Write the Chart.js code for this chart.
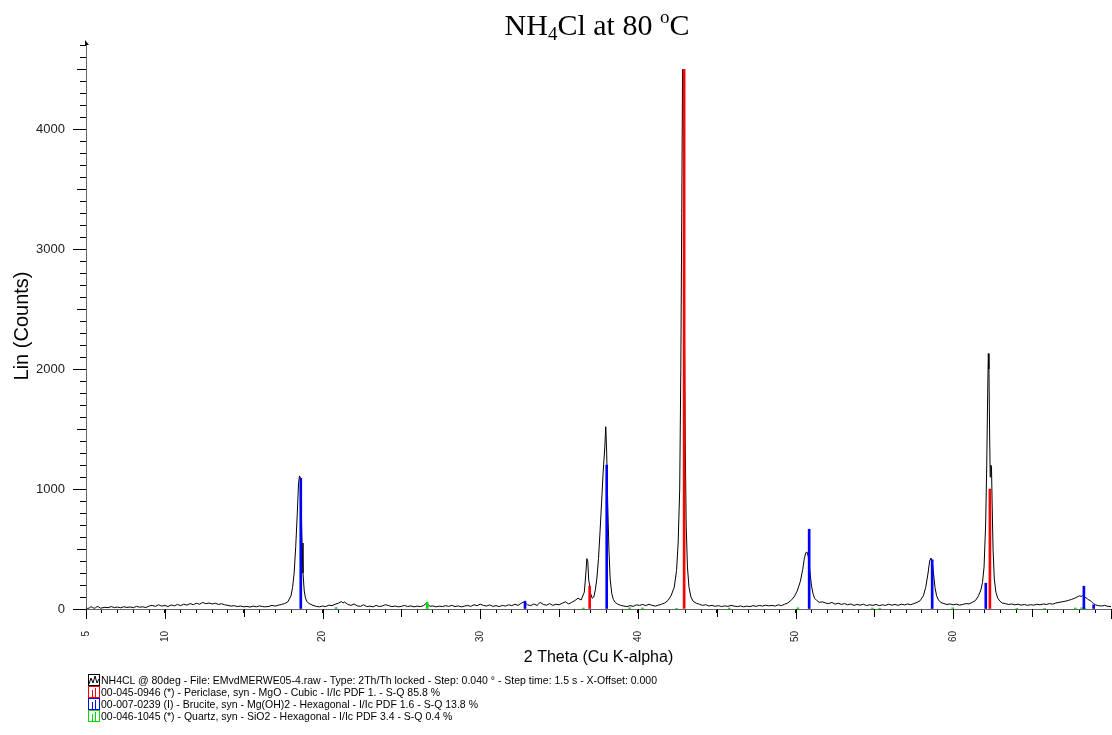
<!DOCTYPE html>
<html>
<head>
<meta charset="utf-8">
<script src="https://cdn.jsdelivr.net/npm/chart.js@4.4.1/dist/chart.umd.min.js"></script>
<style>
  html, body { margin: 0; padding: 0; background: #fff; }
  #wrap { position: relative; width: 1112px; height: 735px; overflow: hidden; }
  #c { position: absolute; left: 0; top: 0; }
  #title { position: absolute; left: 0; width: 1194px; top: 7px; text-align: center;
           font-family: "Liberation Serif", "Times New Roman", serif; font-size: 30px; color: #000; line-height: 36px; }
  #title sub { font-size: 19px; vertical-align: -5px; line-height: 0; }
  #title sup { font-size: 19px; vertical-align: 12px; line-height: 0; }
  #legend { position: absolute; left: 88px; top: 674px; font-family: "Liberation Sans", Arial, sans-serif;
            font-size: 10.5px; color: #000; }
  #legend .row { height: 12px; line-height: 12px; white-space: nowrap; display: flex; align-items: center; }
  #legend svg { margin-right: 1px; flex: none; }
</style>
</head>
<body>
<div id="wrap">
  <canvas id="c" width="1112" height="735"></canvas>
  <div id="title">NH<sub>4</sub>Cl at 80 <sup>o</sup>C</div>
  <div id="legend">
    <div class="row"><svg width="12" height="12"><rect x="0.5" y="0.5" width="11" height="11" fill="none" stroke="#000"/><polyline points="1,10 3,4 5,9 7,2 9,9 11,5" fill="none" stroke="#000"/></svg><span>NH4CL @ 80deg - File: EMvdMERWE05-4.raw - Type: 2Th/Th locked - Step: 0.040 ° - Step time: 1.5 s - X-Offset: 0.000</span></div>
    <div class="row"><svg width="12" height="12"><rect x="0.5" y="0.5" width="11" height="11" fill="none" stroke="#ff0000"/><line x1="4.5" y1="4" x2="4.5" y2="11" stroke="#ff0000"/><line x1="7.5" y1="2" x2="7.5" y2="11" stroke="#ff0000"/></svg><span>00-045-0946 (*) - Periclase, syn - MgO - Cubic - I/Ic PDF 1. - S-Q 85.8 %</span></div>
    <div class="row"><svg width="12" height="12"><rect x="0.5" y="0.5" width="11" height="11" fill="none" stroke="#0000ff"/><line x1="4.5" y1="4" x2="4.5" y2="11" stroke="#0000ff"/><line x1="7.5" y1="2" x2="7.5" y2="11" stroke="#0000ff"/></svg><span>00-007-0239 (I) - Brucite, syn - Mg(OH)2 - Hexagonal - I/Ic PDF 1.6 - S-Q 13.8 %</span></div>
    <div class="row"><svg width="12" height="12"><rect x="0.5" y="0.5" width="11" height="11" fill="none" stroke="#00dd00"/><line x1="4.5" y1="4" x2="4.5" y2="11" stroke="#00dd00"/><line x1="7.5" y1="2" x2="7.5" y2="11" stroke="#00dd00"/></svg><span>00-046-1045 (*) - Quartz, syn - SiO2 - Hexagonal - I/Ic PDF 3.4 - S-Q 0.4 %</span></div>
  </div>
</div>
<script>
// ---- measured pattern (2-theta, counts) ----
const twoTheta = [
 5.0,5.1,5.2,5.3,5.4,5.5,5.6,5.7,5.8,5.9,6.0,6.2,6.4,6.6,6.8,7.0,7.2,7.4,7.6,7.8,8.0,8.2,8.4,8.6,8.8,
 9.0,9.2,9.4,9.6,9.8,10.0,10.2,10.4,10.6,10.8,11.0,11.2,11.4,11.6,11.8,12.0,12.2,12.4,12.6,12.8,
 13.0,13.2,13.4,13.6,13.8,14.0,14.2,14.4,14.6,14.8,15.0,15.2,15.4,15.6,15.8,16.0,16.2,16.4,16.6,16.8,
 17.0,17.2,17.4,17.6,17.8,18.0,18.1,18.2,18.3,18.4,18.48,18.54,18.6,18.64,18.7,18.76,18.84,18.92,19.0,19.1,
 19.2,19.4,19.6,19.8,20.0,20.2,20.4,20.6,20.8,21.0,21.2,21.3,21.4,21.6,21.8,22.0,22.2,22.4,22.6,22.8,
 23.0,23.2,23.4,23.6,23.8,24.0,24.2,24.4,24.6,24.8,25.0,25.2,25.4,25.6,25.8,26.0,26.2,26.4,26.6,26.7,
 26.8,27.0,27.2,27.4,27.6,27.8,28.0,28.2,28.4,28.6,28.8,29.0,29.2,29.4,29.6,29.8,30.0,30.2,30.4,30.6,
 30.8,31.0,31.2,31.4,31.6,31.8,32.0,32.2,32.4,32.6,32.8,33.0,33.2,33.4,33.6,33.8,34.0,34.2,34.4,34.6,
 34.8,35.0,35.2,35.4,35.6,35.8,36.0,36.2,36.4,36.6,36.7,36.76,36.82,36.88,36.94,37.0,37.1,37.2,37.3,37.4,
 37.5,37.6,37.7,37.8,37.9,37.96,38.02,38.08,38.16,38.24,38.34,38.44,38.56,38.7,38.9,39.1,39.3,39.5,39.7,39.9,
 40.1,40.3,40.5,40.7,40.9,41.1,41.3,41.5,41.7,41.9,42.1,42.3,42.45,42.55,42.65,42.72,42.78,42.83,42.87,42.9,
 42.95,43.0,43.06,43.14,43.24,43.36,43.5,43.7,43.9,44.1,44.3,44.5,44.7,44.9,45.1,45.3,45.5,45.7,45.9,46.1,
 46.3,46.5,46.7,46.9,47.1,47.3,47.5,47.7,47.9,48.1,48.3,48.5,48.7,48.9,49.1,49.3,49.5,49.7,49.9,50.1,
 50.3,50.45,50.55,50.65,50.72,50.8,50.9,51.0,51.1,51.2,51.35,51.5,51.7,51.9,52.1,52.3,52.5,52.7,52.9,53.1,
 53.3,53.5,53.7,53.9,54.1,54.3,54.5,54.7,54.9,55.1,55.3,55.5,55.7,55.9,56.1,56.3,56.5,56.7,56.9,57.1,
 57.3,57.5,57.7,57.9,58.1,58.25,58.4,58.5,58.58,58.66,58.74,58.84,58.94,59.06,59.2,59.4,59.6,59.8,60.0,60.2,
 60.4,60.6,60.8,61.0,61.2,61.4,61.6,61.75,61.85,61.95,62.05,62.12,62.18,62.22,62.26,62.3,62.34,62.38,62.42,62.46,
 62.52,62.6,62.7,62.82,62.96,63.1,63.3,63.5,63.7,63.9,64.1,64.3,64.5,64.7,64.9,65.1,65.3,65.5,65.7,65.9,
 66.1,66.3,66.5,66.7,66.9,67.1,67.3,67.5,67.7,67.85,68.0,68.1,68.2,68.3,68.4,68.5,68.6,68.7,68.8,68.9,
 69.0,69.2,69.4,69.6,69.8,70.0
];
const counts = [
 12,4,8,18,15,6,10,20,18,7,9,14,11,20,12,16,10,19,13,17,11,22,15,18,12,
 25,30,22,35,24,30,20,34,26,38,28,40,32,45,36,48,40,55,44,50,
 42,48,38,44,35,30,24,28,20,25,18,22,16,24,18,26,20,18,22,30,
 24,32,38,45,60,110,180,300,520,800,1050,1110,1090,900,550,300,150,90,65,50,
 42,30,22,18,25,20,32,28,40,48,62,50,58,38,30,42,26,22,35,20,
 24,18,30,20,26,36,28,20,25,18,22,30,20,26,18,24,20,28,50,38,
 22,26,18,24,20,28,22,30,20,26,18,24,30,22,35,28,40,30,25,34,
 22,28,20,30,24,35,28,40,30,48,60,35,28,42,30,55,38,32,45,30,
 40,35,48,60,42,55,70,90,75,140,300,420,400,240,200,130,90,100,160,260,
 420,650,900,1150,1350,1520,1300,900,500,250,130,80,55,42,30,25,20,28,22,35,
 30,38,28,40,30,24,32,40,50,70,110,180,320,550,1000,2000,3300,4500,4300,3400,
 2400,1400,700,350,180,100,65,48,40,30,36,25,30,22,28,20,26,22,30,24,
 20,26,18,24,20,28,22,30,24,32,26,30,24,35,28,40,50,70,100,150,
 230,330,420,470,475,440,320,200,130,90,70,55,60,50,45,55,40,48,38,45,
 35,42,30,38,32,40,28,36,30,38,28,35,30,40,32,38,30,40,34,42,
 36,45,55,70,110,180,300,400,425,400,300,180,110,75,55,45,38,42,35,40,
 32,38,45,42,55,70,110,160,220,350,700,1200,1800,2130,2000,1500,1100,1200,1190,900,
 500,250,140,90,65,50,45,38,42,35,40,32,38,30,36,32,40,35,42,38,
 45,40,50,55,60,65,72,80,90,100,110,105,110,100,95,85,75,70,55,45,
 35,28,25,30,22,20
];
// ---- reference stick patterns ----
const periclaseTheta = [36.94, 42.93, 62.32];
const periclaseI     = [190, 4500, 1000];
const bruciteTheta   = [18.62, 32.84, 38.02, 50.86, 58.66, 62.06, 68.28, 68.9];
const bruciteI       = [1090, 65, 1200, 665, 410, 215, 190, 35];
const quartzTheta    = [20.86, 26.64, 36.54, 39.47, 40.29, 42.45, 45.79, 50.14, 54.87, 55.33, 59.96, 64.03, 65.79, 67.74, 68.14, 68.32];
const quartzI        = [12, 55, 8, 10, 8, 6, 8, 10, 8, 6, 10, 6, 5, 8, 10, 7];
// ---- axis ticks ----
const xLabelValues = [5, 10, 20, 30, 40, 50, 60];
const yLabelValues = [0, 1000, 2000, 3000, 4000];

const pts = (xs, ys) => xs.map((x, i) => ({x: x, y: ys[i]}));
const FONT = "'Liberation Sans', Arial, sans-serif";

const extraTicks = {
  id: 'extraTicks',
  afterDraw(chart) {
    const {ctx} = chart;
    const x = chart.scales.x, y = chart.scales.y;
    ctx.save();
    ctx.strokeStyle = '#000';
    ctx.lineWidth = 1;
    x.ticks.forEach(t => {
      const v = t.value;
      let len = 0;
      if (v % 10 === 0 || v === 5) len = 10; else if (v % 5 === 0) len = 8;
      if (len) {
        const px = Math.round(x.getPixelForValue(v)) + 0.5;
        ctx.beginPath(); ctx.moveTo(px, x.top); ctx.lineTo(px, x.top + len); ctx.stroke();
      }
    });
    y.ticks.forEach(t => {
      const v = t.value;
      let len = 0;
      if (v % 1000 === 0) len = 13; else if (v % 500 === 0) len = 9;
      if (len) {
        const py = Math.round(y.getPixelForValue(v)) + 0.5;
        ctx.beginPath(); ctx.moveTo(y.right - len, py); ctx.lineTo(y.right, py); ctx.stroke();
      }
    });
    const ax = y.right, ay = y.top;
    ctx.fillStyle = '#000';
    ctx.beginPath(); ctx.moveTo(ax - 1, ay - 3); ctx.lineTo(ax + 3, ay + 2); ctx.lineTo(ax - 1, ay + 2); ctx.closePath(); ctx.fill();
    ctx.restore();
  }
};

new Chart(document.getElementById('c'), {
  type: 'line',
  data: {
    datasets: [
      { type: 'bar', label: 'Periclase', data: pts(periclaseTheta, periclaseI), backgroundColor: '#ff0000',
        barThickness: 2, order: 0, grouped: false },
      { type: 'bar', label: 'Brucite', data: pts(bruciteTheta, bruciteI), backgroundColor: '#0000ff',
        barThickness: 2, order: 0, grouped: false },
      { type: 'bar', label: 'Quartz', data: pts(quartzTheta, quartzI), backgroundColor: '#00dd00',
        barThickness: 2, order: 0, grouped: false },
      { type: 'line', label: 'NH4CL @ 80deg', data: pts(twoTheta, counts), borderColor: '#000',
        borderWidth: 1, pointRadius: 0, tension: 0, fill: false, order: 2 }
    ]
  },
  options: {
    responsive: false,
    animation: false,
    devicePixelRatio: 1,
    layout: { padding: { top: 43, right: 1, bottom: 60, left: 0 } },
    plugins: { legend: { display: false }, title: { display: false }, tooltip: { enabled: false } },
    scales: {
      x: {
        type: 'linear', position: 'bottom', min: 5, max: 70, offset: false,
        afterFit: s => { s.height = 66; s.paddingLeft = 0; s.paddingRight = 0; },
        grid: { display: true, drawOnChartArea: false, drawTicks: true, tickLength: 4, tickColor: '#000', offset: false },
        border: { display: true, color: '#666', width: 1 },
        ticks: {
          stepSize: 1, autoSkip: false, minRotation: 90, maxRotation: 90, padding: 18, includeBounds: false,
          color: '#222', font: { family: FONT, size: 10 },
          callback: v => xLabelValues.includes(v) ? String(v) : ''
        },
        title: { display: true, text: '2 Theta (Cu K-alpha)', color: '#000',
                 font: { family: FONT, size: 16 }, padding: { top: 0, bottom: 8 } }
      },
      y: {
        type: 'linear', min: 0, max: 4720,
        afterFit: s => { s.width = 86; },
        grid: { display: true, drawOnChartArea: false, drawTicks: true, tickLength: 6, tickColor: '#000' },
        border: { display: true, color: '#666', width: 1 },
        ticks: {
          stepSize: 100, autoSkip: false, includeBounds: false, padding: 15,
          color: '#222', font: { family: FONT, size: 13 },
          callback: v => yLabelValues.includes(v) ? String(v) : ''
        },
        title: { display: true, text: 'Lin (Counts)', color: '#000',
                 font: { family: FONT, size: 20 }, padding: { top: 10, bottom: 0 } }
      }
    }
  },
  plugins: [extraTicks]
});
</script>
</body>
</html>
